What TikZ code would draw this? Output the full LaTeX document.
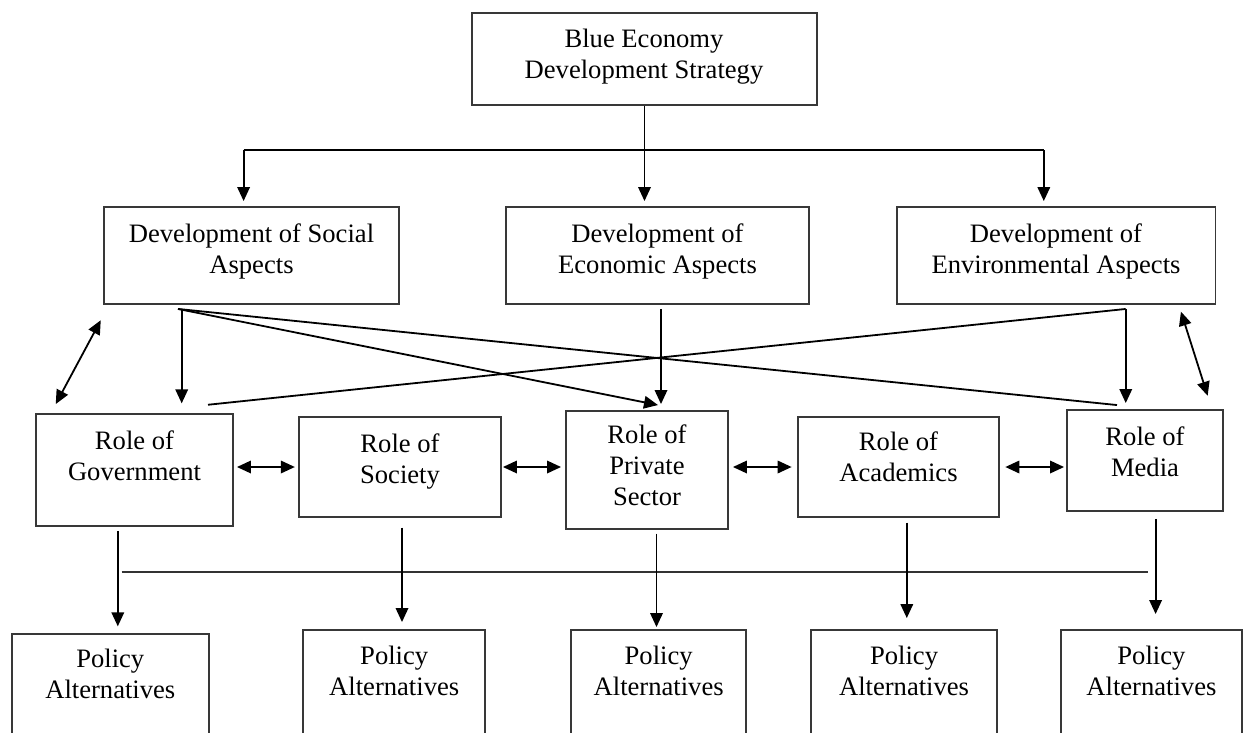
\documentclass[tikz,border=0pt]{standalone}
\usepackage{fontspec}
\setmainfont{Liberation Serif}
\usetikzlibrary{arrows.meta,calc}
\newcommand{\mlines}[1]{\begin{tabular}[t]{@{}c@{}}#1\end{tabular}}
\begin{document}
\begin{tikzpicture}[x=1pt,y=-1pt,
  box/.style={draw=black!78,line width=1.9pt,inner sep=0pt,fill=none},
  txt/.style={anchor=base,inner sep=0pt,font=\fontsize{26.6}{31}\selectfont},
  conn/.style={line width=1.8pt,black},
  arr/.style={conn,-{Triangle[length=14pt,width=12.5pt]}},
  dbl/.style={conn,{Triangle[length=14pt,width=12.5pt]}-{Triangle[length=14pt,width=12.5pt]}}]
\useasboundingbox (0,0) rectangle (1243,732);
\clip (0,0) rectangle (1243,732);
% boxes
\node[box,minimum width=345,minimum height=92.3] (top) at (644.5,58.85) {};
\node[box,minimum width=295.7,minimum height=97] (soc) at (251.45,255.5) {};
\node[box,minimum width=303,minimum height=97] (eco) at (657.5,255.5) {};
\node[box,minimum width=318.5,minimum height=97] (env) at (1056.25,255.5) {};
\node[box,minimum width=197.4,minimum height=111.7] (gov) at (134.3,470.15) {};
\node[box,minimum width=202.2,minimum height=100.3] (socy) at (399.9,466.85) {};
\node[box,minimum width=162,minimum height=118.3] (priv) at (647,469.85) {};
\node[box,minimum width=201.8,minimum height=100.3] (acad) at (898.5,466.85) {};
\node[box,minimum width=156,minimum height=100.7] (media) at (1145,460.35) {};
\node[box,minimum width=196.8,minimum height=110.7] (p1) at (110.3,689.65) {};
\node[box,minimum width=182.4,minimum height=115] (p2) at (394.2,687.5) {};
\node[box,minimum width=175.3,minimum height=115] (p3) at (658.65,687.5) {};
\node[box,minimum width=186.7,minimum height=115] (p4) at (904.05,687.5) {};
\node[box,minimum width=180.8,minimum height=115] (p5) at (1151.4,687.5) {};
% texts
\node[txt] (topT) at (644,47) {\mlines{Blue Economy\\Development Strategy}};
\node[txt] (socT) at (251.5,242) {\mlines{Development of Social\\Aspects}};
\node[txt] (ecoT) at (657.5,242) {\mlines{Development of\\Economic Aspects}};
\node[txt] (envT) at (1056,242) {\mlines{Development of\\Environmental Aspects}};
\node[txt] (govT) at (134.5,449) {\mlines{Role of\\Government}};
\node[txt] (socyT) at (400,452) {\mlines{Role of\\Society}};
\node[txt] (privT) at (647,443.5) {\mlines{Role of\\Private\\Sector}};
\node[txt] (acadT) at (898.5,450) {\mlines{Role of\\Academics}};
\node[txt] (mediaT) at (1145,445) {\mlines{Role of\\Media}};
\node[txt] (p1T) at (110.3,667) {\mlines{Policy\\Alternatives}};
\node[txt] (p2T) at (394.2,664) {\mlines{Policy\\Alternatives}};
\node[txt] (p3T) at (658.65,664) {\mlines{Policy\\Alternatives}};
\node[txt] (p4T) at (904.05,664) {\mlines{Policy\\Alternatives}};
\node[txt] (p5T) at (1151.4,664) {\mlines{Policy\\Alternatives}};
% top distribution
\coordinate (busL) at (243.6,150);
\coordinate (busR) at (1043.8,150);
\draw[conn] (busL) -- (busR);
\draw[arr,shorten >=5pt] (top.south) -- (top.south |- eco.north);
\draw[arr,shorten >=5pt] (busL) -- (busL |- soc.north);
\draw[arr,shorten >=5pt] (busR) -- (busR |- env.north);
% helper points just outside boxes
\coordinate (sO) at ($(soc.south)+(-73.45,4)$);
\coordinate (gE) at ($(gov.north)+(73.7,-8.6)$);
\coordinate (pIn) at ($(priv.north)+(11,-4.7)$);
\coordinate (mIn) at ($(media.north)+(-28,-4)$);
\coordinate (eIn) at ($(env.south)+(69.5,4)$);
% crossing connectors
\draw[arr,shorten <=4pt,shorten >=10pt] (soc.south -| 181.7,0) -- (gov.north -| 181.7,0);
\draw[arr] (sO) -- (pIn);
\draw[conn] (sO) -- (mIn);
\draw[conn] (gE) -- (eIn);
\draw[arr,shorten <=4pt,shorten >=5.7pt] (eco.south -| 661,0) -- (priv.north -| 661,0);
\draw[arr,shorten >=6pt] (eIn) -- (eIn |- media.north);
\draw[dbl] ($(soc.south west)+(-1.9,15.3)$) -- ($(gov.north west)+(21.1,-9.3)$);
\draw[dbl] ($(env.south east)+(-35.5,6.7)$) -- ($(media.north east)+(-16.3,-13.3)$);
% horizontal double arrows
\draw[dbl,shorten <=3pt,shorten >=3pt] (gov.east |- 0,467) -- (socy.west |- 0,467);
\draw[dbl,shorten <=1pt,shorten >=4pt] (socy.east |- 0,467) -- (priv.west |- 0,467);
\draw[dbl,shorten <=4pt,shorten >=5pt] (priv.east |- 0,467) -- (acad.west |- 0,467);
\draw[dbl,shorten <=5pt,shorten >=2pt] (acad.east |- 0,467) -- (media.west |- 0,467);
% bottom line and arrows
\coordinate (hbL) at (121.7,572.3);
\coordinate (hbR) at (1148.4,572.3);
\draw[conn,black!80,line width=1.9pt] (hbL) -- (hbR);
\draw[arr,shorten <=4pt,shorten >=7pt] (gov.south -| 117.8,0) -- (p1.north -| 117.8,0);
\draw[arr,shorten <=9.7pt,shorten >=7pt] (socy.south -| 402,0) -- (p2.north -| 402,0);
\draw[arr,shorten <=3.7pt,shorten >=2pt] (priv.south -| 656.5,0) -- (p3.north -| 656.5,0);
\draw[arr,shorten <=4.7pt,shorten >=11pt] (acad.south -| 906.8,0) -- (p4.north -| 906.8,0);
\draw[arr,shorten <=7.3pt,shorten >=15pt] (media.south -| 1155.6,0) -- (p5.north -| 1155.6,0);
\end{tikzpicture}
\end{document}
